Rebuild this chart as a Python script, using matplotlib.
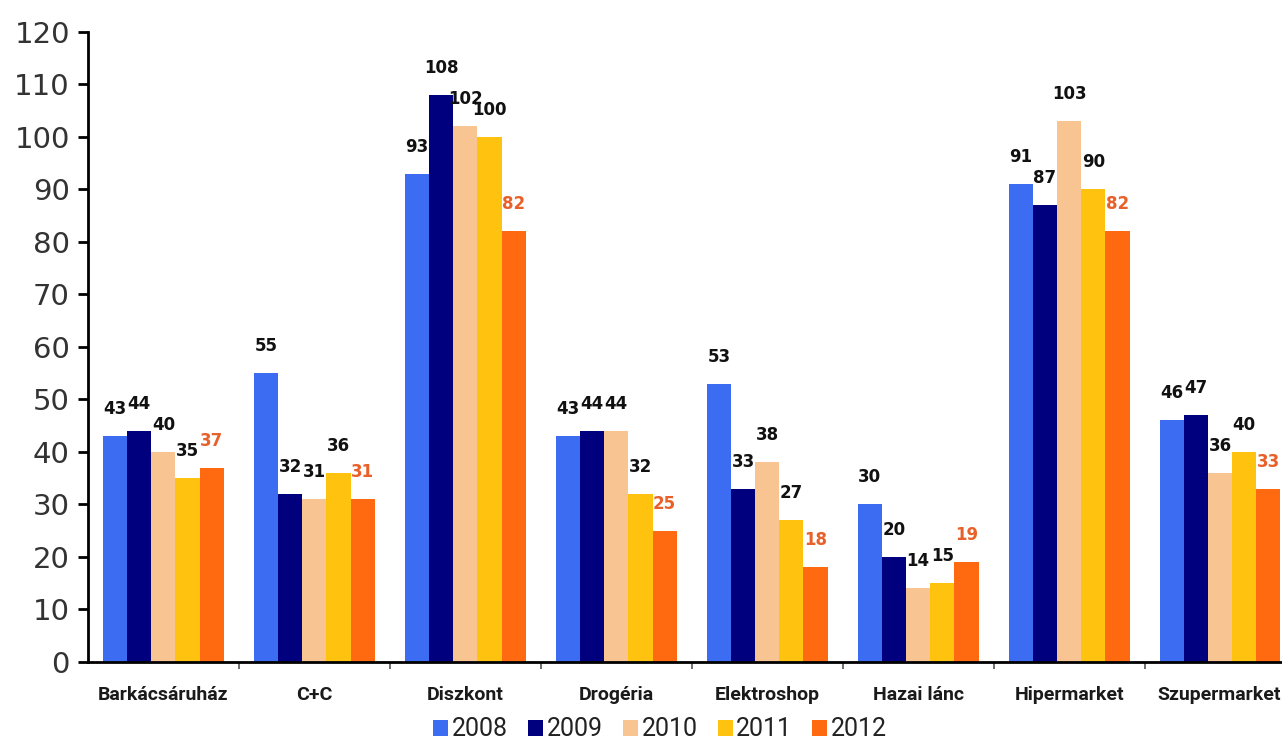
import matplotlib.pyplot as plt
import numpy as np

categories = ['Barkácsáruház', 'C+C', 'Diszkont', 'Drogéria', 'Elektroshop',
              'Hazai lánc', 'Hipermarket', 'Szupermarket']
years = ['2008', '2009', '2010', '2011', '2012']
v2008 = [43, 55, 93, 43, 53, 30, 91, 46]
v2009 = [44, 32, 108, 44, 33, 20, 87, 47]
v2010 = [40, 31, 102, 44, 38, 14, 103, 36]
v2011 = [35, 36, 100, 32, 27, 15, 90, 40]
v2012 = [37, 31, 82, 25, 18, 19, 82, 33]
series = [v2008, v2009, v2010, v2011, v2012]

colors = ['#3B6CF2', '#00007F', '#F8C491', '#FFC20E', '#FF6A10']
label_colors = ['#111111', '#111111', '#111111', '#111111', '#E8602A']

fig = plt.figure(figsize=(12.82, 7.42), dpi=100)
ax = fig.add_axes([0.0686, 0.108, 0.9314, 0.849])

x = np.arange(len(categories))
w = 0.16
for i, vals in enumerate(series):
    pos = x + (i - 2) * w
    ax.bar(pos, vals, width=w, color=colors[i], label=years[i], zorder=2)
    for px, v in zip(pos, vals):
        ax.annotate(str(v), (px, v), xytext=(0, 13), textcoords='offset points',
                    ha='center', va='bottom', fontsize=12, fontweight='bold',
                    color=label_colors[i], family='DejaVu Sans')

ax.set_xlim(-0.5, 7.41)
ax.set_ylim(0, 120)
ax.set_yticks(range(0, 121, 10))
ax.tick_params(axis='y', direction='out', length=7, width=2, labelsize=21,
               labelcolor='#333333', pad=6)
for t in ax.get_yticklabels():
    t.set_family('DejaVu Sans')

# category names as text under the axis, last one kept inside the figure
ax.set_xticks(np.arange(0.5, 7.5, 1))
ax.set_xticklabels([])
ax.tick_params(axis='x', length=5, width=1.2, color='#555555')
xt = ax.get_xaxis_transform()
for k, name in enumerate(categories):
    if k == len(categories) - 1:
        ax.text(7.40, -0.052, name, transform=xt, ha='right', va='center',
                fontsize=14, fontweight='bold', family=['Roboto', 'DejaVu Sans'],
                color='#1a1a1a')
    else:
        ax.text(k, -0.052, name, transform=xt, ha='center', va='center',
                fontsize=14, fontweight='bold', family=['Roboto', 'DejaVu Sans'],
                color='#1a1a1a')

for s in ['top', 'right']:
    ax.spines[s].set_visible(False)
ax.spines['left'].set_linewidth(2)
ax.spines['bottom'].set_linewidth(2)

leg = fig.legend(loc='center', bbox_to_anchor=(0.515, 0.017), ncol=5,
                 frameon=False, handlelength=0.6, handleheight=0.6,
                 handletextpad=0.15, columnspacing=0.8,
                 prop={'family': ['Roboto', 'DejaVu Sans'], 'size': 18})
for t in leg.get_texts():
    t.set_color('#222222')

fig.savefig('out.png', dpi=100)
